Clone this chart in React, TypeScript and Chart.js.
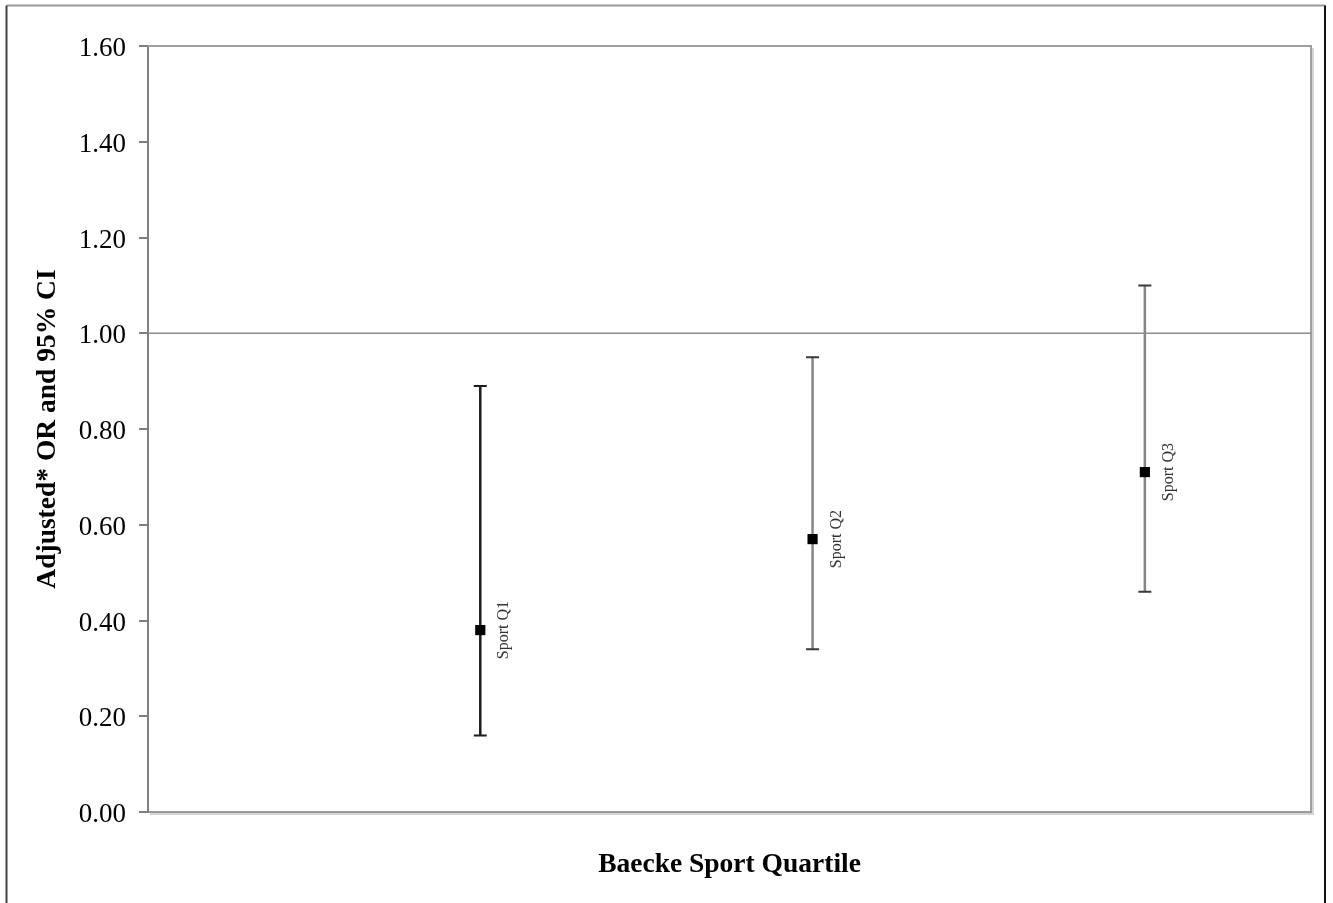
import React, { useEffect, useRef } from 'react';
import { Chart, registerables } from 'chart.js';

Chart.register(...registerables);

// ---- Data ----
const CATEGORIES = ['Sport Q1', 'Sport Q2', 'Sport Q3'];
const X_POSITIONS = [1, 2, 3];
const ODDS_RATIOS = [0.38, 0.57, 0.71];
const CI_LOWER = [0.16, 0.34, 0.46];
const CI_UPPER = [0.89, 0.95, 1.1];
const REFERENCE_OR = 1.0;
const X_MIN = 0;
const X_MAX = 3.5;
const Y_TICK_VALUES = [0, 0.2, 0.4, 0.6, 0.8, 1.0, 1.2, 1.4, 1.6];
const Y_TICK_LABELS = ['0.00', '0.20', '0.40', '0.60', '0.80', '1.00', '1.20', '1.40', '1.60'];
const X_TITLE = 'Baecke Sport Quartile';
const Y_TITLE = 'Adjusted* OR and 95% CI';

// ---- Styles ----
const SERIF = "'Liberation Serif', 'Times New Roman', serif";
const BAR_COLORS = ['#1c1c1c', '#858585', '#858585'];
const CAP_COLORS = ['#1c1c1c', '#3a3a3a', '#3a3a3a'];

export default function App() {
  const ref = useRef<HTMLCanvasElement>(null);

  useEffect(() => {
    const canvas = ref.current;
    if (!canvas) return;

    const decorations = {
      id: 'decorations',
      beforeDraw(chart: any) {
        const { ctx, width, height } = chart;
        ctx.save();
        ctx.fillStyle = '#ffffff';
        ctx.fillRect(0, 0, width, height);
        ctx.restore();
      },
      beforeDatasetsDraw(chart: any) {
        const { ctx, chartArea, scales } = chart;
        const x = scales.x;
        const y = scales.y;
        ctx.save();
        // plot area top/right border with light shadow
        ctx.strokeStyle = '#d4d4d4';
        ctx.lineWidth = 2;
        ctx.beginPath();
        ctx.moveTo(chartArea.left + 2, chartArea.bottom + 2);
        ctx.lineTo(chartArea.right + 2, chartArea.bottom + 2);
        ctx.lineTo(chartArea.right + 2, chartArea.top + 2);
        ctx.stroke();
        ctx.strokeStyle = '#a0a0a0';
        ctx.beginPath();
        ctx.moveTo(chartArea.left, chartArea.top);
        ctx.lineTo(chartArea.right, chartArea.top);
        ctx.lineTo(chartArea.right, chartArea.bottom);
        ctx.stroke();
        // error bars
        X_POSITIONS.forEach((xv, i) => {
          const px = x.getPixelForValue(xv);
          const top = y.getPixelForValue(CI_UPPER[i]);
          const bot = y.getPixelForValue(CI_LOWER[i]);
          ctx.strokeStyle = BAR_COLORS[i];
          ctx.lineWidth = 2.5;
          ctx.beginPath();
          ctx.moveTo(px, top);
          ctx.lineTo(px, bot);
          ctx.stroke();
          ctx.strokeStyle = CAP_COLORS[i];
          ctx.lineWidth = 2;
          ctx.beginPath();
          ctx.moveTo(px - 6.5, top);
          ctx.lineTo(px + 6.5, top);
          ctx.moveTo(px - 6.5, bot);
          ctx.lineTo(px + 6.5, bot);
          ctx.stroke();
        });
        ctx.restore();
      },
      afterDatasetsDraw(chart: any) {
        const { ctx, scales } = chart;
        const x = scales.x;
        const y = scales.y;
        ctx.save();
        ctx.font = `16px ${SERIF}`;
        ctx.fillStyle = '#333333';
        ctx.textAlign = 'center';
        ctx.textBaseline = 'middle';
        X_POSITIONS.forEach((xv, i) => {
          const px = x.getPixelForValue(xv);
          const py = y.getPixelForValue(ODDS_RATIOS[i]);
          ctx.save();
          ctx.translate(px + 24, py);
          ctx.rotate(-Math.PI / 2);
          ctx.fillText(CATEGORIES[i], 0, 0);
          ctx.restore();
        });
        ctx.restore();
      },
      afterDraw(chart: any) {
        const { ctx, height } = chart;
        ctx.save();
        ctx.lineWidth = 2;
        ctx.strokeStyle = '#9a9a9a';
        ctx.beginPath();
        ctx.moveTo(6.5, 5.5);
        ctx.lineTo(1325, 5.5);
        ctx.stroke();
        ctx.strokeStyle = '#444444';
        ctx.beginPath();
        ctx.moveTo(6.5, 5.5);
        ctx.lineTo(6.5, height);
        ctx.stroke();
        ctx.strokeStyle = '#111111';
        ctx.beginPath();
        ctx.moveTo(1325, 5.5);
        ctx.lineTo(1325, height);
        ctx.stroke();
        ctx.restore();
      },
    };

    const chart = new Chart(canvas, {
      type: 'scatter',
      data: {
        datasets: [
          {
            type: 'line',
            label: 'Reference',
            data: [
              { x: X_MIN, y: REFERENCE_OR },
              { x: X_MAX, y: REFERENCE_OR },
            ],
            borderColor: '#8c8c8c',
            borderWidth: 1.5,
            pointRadius: 0,
            order: 2,
          } as any,
          {
            type: 'scatter',
            label: 'Adjusted OR',
            data: X_POSITIONS.map((xv, i) => ({ x: xv, y: ODDS_RATIOS[i] })),
            pointStyle: 'rect',
            pointRadius: 7.2,
            backgroundColor: '#000000',
            borderColor: '#000000',
            borderWidth: 0,
            order: 1,
          },
        ],
      },
      options: {
        responsive: false,
        animation: false,
        devicePixelRatio: 1,
        layout: { padding: { left: 0, top: 46, right: 22, bottom: 0 } },
        plugins: {
          legend: { display: false },
          tooltip: { enabled: false },
          title: { display: false },
        },
        scales: {
          x: {
            type: 'linear',
            min: X_MIN,
            max: X_MAX,
            ticks: { display: false },
            grid: { display: false },
            border: { display: true, color: '#9a9a9a', width: 2 },
            title: {
              display: true,
              text: X_TITLE,
              color: '#000000',
              font: { family: SERIF, size: 27.5, weight: 'bold' },
              padding: { top: 0, bottom: 21.5 },
            },
            afterFit: (s: any) => {
              s.height = 91;
            },
          },
          y: {
            type: 'linear',
            min: 0,
            max: 1.6,
            afterBuildTicks: (s: any) => {
              s.ticks = Y_TICK_VALUES.map((v) => ({ value: v }));
            },
            ticks: {
              padding: 13,
              labelOffset: 3,
              color: '#000000',
              font: { family: SERIF, size: 27 },
              callback: (_v: any, i: number) => Y_TICK_LABELS[i],
            },
            grid: {
              drawOnChartArea: false,
              drawTicks: true,
              tickLength: 9,
              color: '#808080',
              lineWidth: 2,
            },
            border: { display: true, color: '#808080', width: 2 },
            title: {
              display: true,
              text: Y_TITLE,
              color: '#000000',
              font: { family: SERIF, size: 27.5, weight: 'bold' },
              padding: { top: 31, bottom: 0 },
            },
            afterFit: (s: any) => {
              s.width = 148;
            },
          },
        },
      } as any,
      plugins: [decorations],
    });

    return () => {
      chart.destroy();
    };
  }, []);

  return (
    <div
      style={{
        position: 'absolute',
        left: 0,
        top: 0,
        width: 1333,
        height: 903,
        background: '#ffffff',
      }}
    >
      <canvas ref={ref} width={1333} height={903} style={{ display: 'block' }} />
    </div>
  );
}
